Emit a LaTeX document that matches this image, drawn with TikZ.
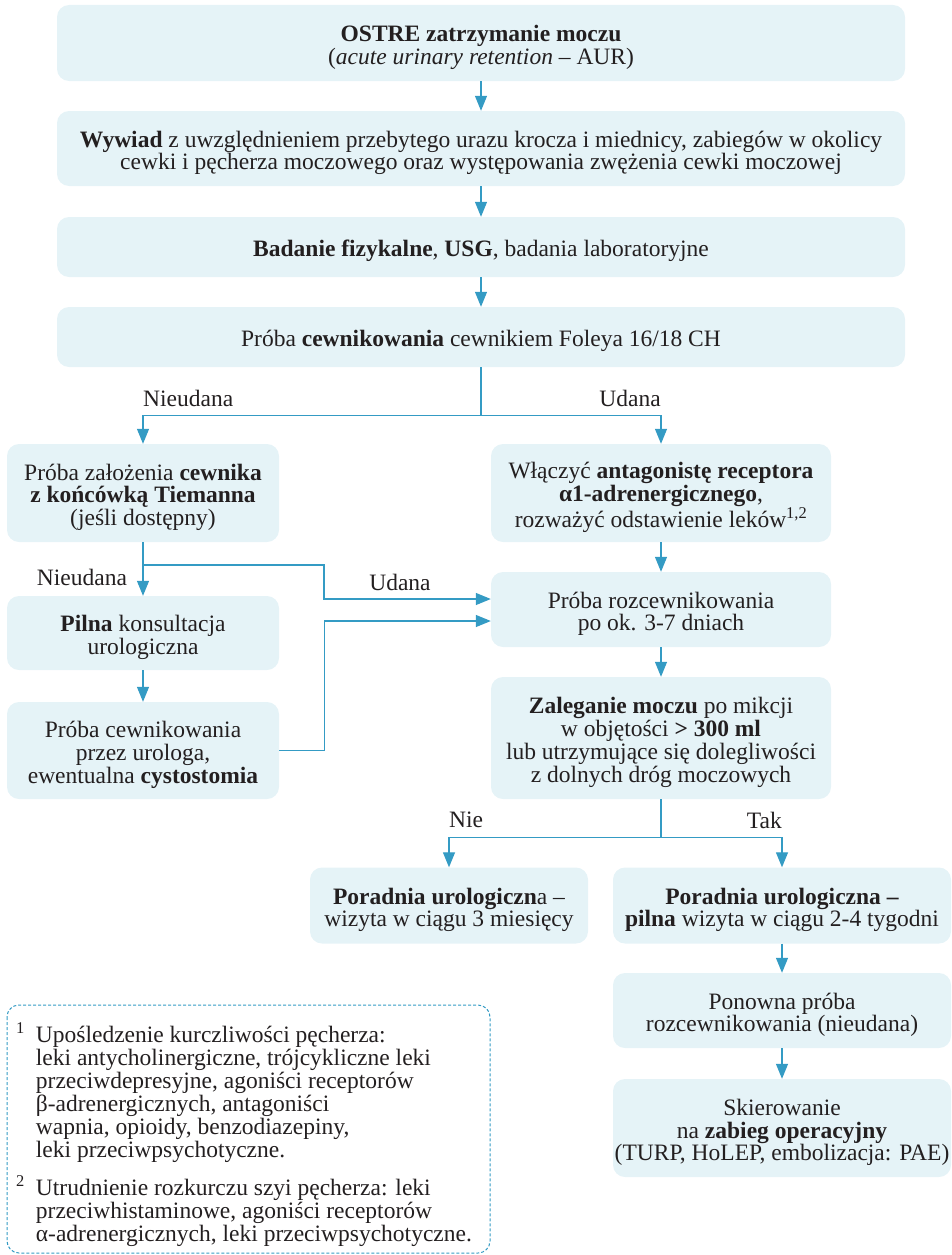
\documentclass[tikz,border=0pt]{standalone}
\usepackage{fontspec}
\setmainfont{Liberation Serif}
\usetikzlibrary{arrows.meta}
\definecolor{boxfill}{RGB}{229,243,247}
\definecolor{arrowblue}{RGB}{52,155,196}
\definecolor{txt}{RGB}{35,31,32}
\newcommand{\gorny}{\rule{0pt}{25pt}}
\begin{document}
\begin{tikzpicture}[x=1pt, y=-1pt,
    box/.style={fill=boxfill, rounded corners=12pt, inner sep=0pt, align=center,
                text=txt, font=\fontsize{23.5}{22.7}\selectfont},
    lbl/.style={inner sep=0pt, text=txt, font=\fontsize{23.5}{22.7}\selectfont},
    arr/.style={draw=arrowblue, line width=1.3pt, -{Triangle[width=12pt,length=15pt]}}]

  \useasboundingbox (0,0) rectangle (952,1255);

  \node[box, minimum width=848pt, minimum height=76pt] (ostre)   at (481,43)
    {\gorny\textbf{OSTRE zatrzymanie moczu}\\(\textit{acute urinary retention} – AUR)};
  \node[box, minimum width=848pt, minimum height=75pt] (wywiad)  at (481,148.5)
    {\gorny\textbf{Wywiad} z uwzględnieniem przebytego urazu krocza i miednicy, zabiegów w okolicy\\
     cewki i pęcherza moczowego oraz występowania zwężenia cewki moczowej};
  \node[box, minimum width=848pt, minimum height=60pt] (badanie) at (481,247)
    {\gorny\textbf{Badanie fizykalne}, \textbf{USG}, badania laboratoryjne};
  \node[box, minimum width=848pt, minimum height=60pt] (proba)   at (481,337)
    {\gorny Próba \textbf{cewnikowania} cewnikiem Foleya 16/18 CH};

  \node[box, minimum width=272pt, minimum height=98pt] (tiemann) at (143,493)
    {\gorny Próba założenia \textbf{cewnika}\\\textbf{z końcówką Tiemanna}\\(jeśli dostępny)};
  \node[box, minimum width=272pt, minimum height=74pt] (pilna)   at (143,633)
    {\gorny\textbf{Pilna} konsultacja\\urologiczna};
  \node[box, minimum width=272pt, minimum height=97pt] (urolog)  at (143,750.5)
    {\gorny Próba cewnikowania\\przez urologa,\\ewentualna \textbf{cystostomia}};

  \node[box, minimum width=340pt, minimum height=98pt] (alfa)    at (661,493)
    {\gorny Włączyć \textbf{antagonistę receptora}\\\textbf{α1-adrenergicznego},\\
     rozważyć odstawienie leków\textsuperscript{1,2}};
  \node[box, minimum width=340pt, minimum height=75pt] (rozcew)  at (661,609.5)
    {\gorny Próba rozcewnikowania\\po ok. 3-7 dniach};
  \node[box, minimum width=340pt, minimum height=122pt] (zaleg)  at (661,738)
    {\gorny\textbf{Zaleganie moczu} po mikcji\\w objętości \textbf{> 300 ml}\\
     lub utrzymujące się dolegliwości\\z dolnych dróg moczowych};

  \node[box, minimum width=278pt, minimum height=76pt] (por3)    at (449,905.5)
    {\gorny\textbf{Poradnia urologiczn}a –\\wizyta w ciągu 3 miesięcy};
  \node[box, minimum width=338pt, minimum height=76pt] (por24)   at (782,905.5)
    {\gorny\textbf{Poradnia urologiczna –}\\\textbf{pilna} wizyta w ciągu 2-4 tygodni};
  \node[box, minimum width=338pt, minimum height=75pt] (ponowna) at (782,1010.5)
    {\gorny Ponowna próba\\rozcewnikowania (nieudana)};
  \node[box, minimum width=338pt, minimum height=98pt] (skier)   at (782,1128)
    {\gorny Skierowanie\\na \textbf{zabieg operacyjny}\\(TURP, HoLEP, embolizacja: PAE)};

  \foreach \a/\b in {ostre/wywiad, wywiad/badanie, badanie/proba, tiemann/pilna,
                     pilna/urolog, alfa/rozcew, rozcew/zaleg, por24/ponowna, ponowna/skier}
    \draw[arr] (\a) -- (\b);

  \draw[arr] (proba.south) -- ++(0,48) -| (tiemann.north);
  \draw[arr] (proba.south) -- ++(0,48) -| (alfa.north);
  \draw[arr] (tiemann.south) |- (324,565) |- ([yshift=10.5pt]rozcew.west);
  \draw[arr] (urolog.east) -- ++(45,0) |- ([yshift=-11.5pt]rozcew.west);
  \draw[arr] (zaleg.south) -- ++(0,38) -| (por3.north);
  \draw[arr] (zaleg.south) -- ++(0,38) -| (por24.north);

  \node[lbl, anchor=west] (nieu1) at (143,398) {Nieudana};
  \node[lbl, anchor=east] (udana1) at (661,398) {Udana};
  \node[lbl] (nieu2) at (82,577) {Nieudana};
  \node[lbl] (udana2) at (400,582) {Udana};
  \node[lbl, anchor=west] (nie) at (449,820) {Nie};
  \node[lbl, anchor=east] (tak) at (782,820) {Tak};

  \draw[arrowblue, line width=1pt, dash pattern=on 3pt off 2pt, rounded corners=12pt]
    (7,1005) rectangle (490,1253);
  \node[lbl, anchor=north west] (przypisy) at (16,1022)
    {\begin{tabular}{@{}l@{\hspace{11pt}}l@{}}
     \textsuperscript{1} & Upośledzenie kurczliwości pęcherza:\\
      & leki antycholinergiczne, trójcykliczne leki\\
      & przeciwdepresyjne, agoniści receptorów\\
      & β-adrenergicznych, antagoniści\\
      & wapnia, opioidy, benzodiazepiny,\\
      & leki przeciwpsychotyczne.\\[11pt]
     \textsuperscript{2} & Utrudnienie rozkurczu szyi pęcherza: leki\\
      & przeciwhistaminowe, agoniści receptorów\\
      & α-adrenergicznych, leki przeciwpsychotyczne.
     \end{tabular}};
\end{tikzpicture}
\end{document}
